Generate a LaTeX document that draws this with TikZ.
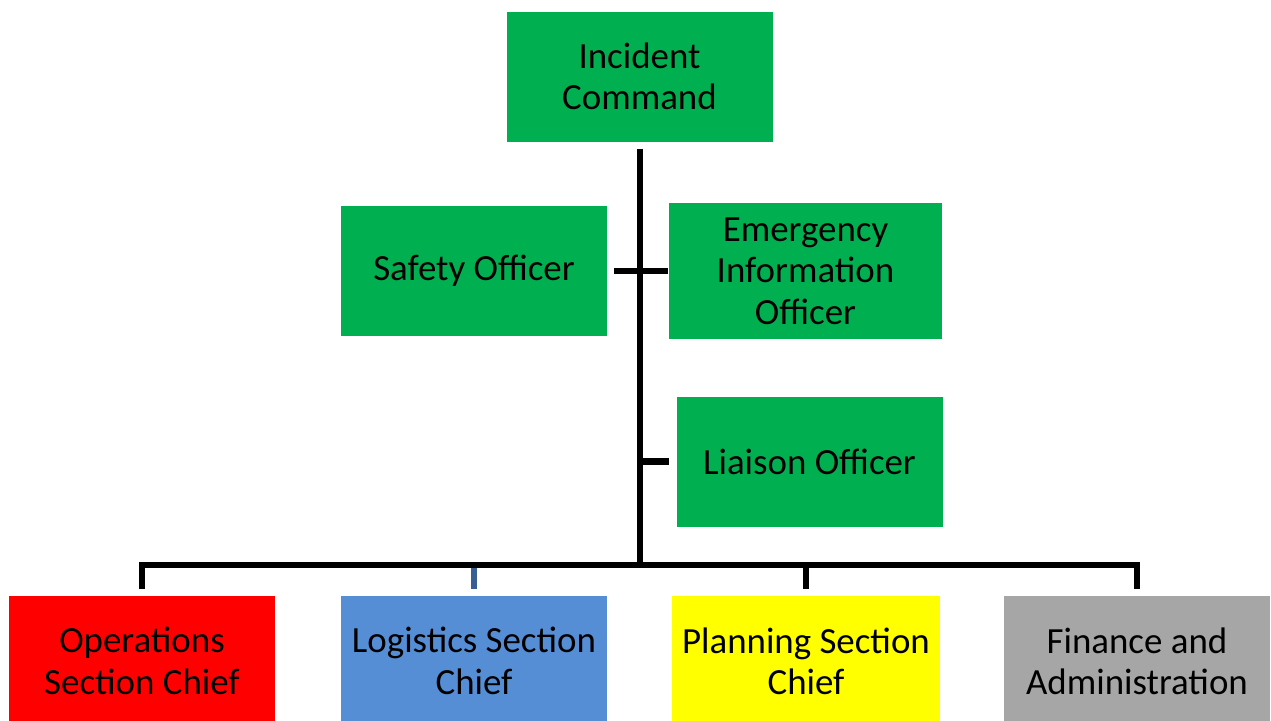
\documentclass[tikz,border=0pt]{standalone}
\usepackage{fontspec}
\setmainfont{Carlito}
\usepackage{xcolor}
\usetikzlibrary{positioning,calc}
\definecolor{icsgreen}{RGB}{0,176,80}
\definecolor{icsred}{RGB}{255,0,0}
\definecolor{icsblue}{RGB}{85,142,213}
\definecolor{icsyellow}{RGB}{255,255,0}
\definecolor{icsgray}{RGB}{166,166,166}
\definecolor{tickblue}{RGB}{55,96,146}

\begin{document}
\begin{tikzpicture}[x=0.2mm,y=-0.2mm,
	box/.style={rectangle,inner sep=0pt,outer sep=0pt,minimum width=53.2mm,minimum height=26mm,
		align=center,text=black,font=\fontsize{21}{23.5}\selectfont},
	link/.style={line width=1.3mm,black},
	gap/.style={shorten <=1.4mm,shorten >=1.4mm}]
	\def\BusY{565}
	\useasboundingbox (0,0) rectangle (1271,721);
	\clip (0,0) rectangle (1271,721);

	\node[box,fill=icsgreen] (ic) at (639.5,76.5) {Incident\\Command};
	\node[box,fill=icsgreen] (saf) at (474,271) {Safety Officer};
	\node[box,fill=icsgreen,minimum width=54.6mm,minimum height=27.2mm] (eio) at (805.5,271) {Emergency\\Information\\Officer};
	\node[box,fill=icsgreen] (lia) at (809.5,461.5) {Liaison Officer};

	\node[box,fill=icsred] (ops) at (142,661) {Operations\\Section Chief};
	\node[box,fill=icsblue] (log) at (474,661) {Logistics Section\\Chief};
	\node[box,fill=icsyellow,minimum width=53.6mm] (pla) at (806,661) {Planning Section\\Chief};
	\node[box,fill=icsgray] (fin) at (1137,661) {Finance and\\Administration};

	\coordinate (bus) at (640,\BusY);

	\draw[link,shorten <=1.4mm] (ic.south -| bus) -- (bus);
	\draw[link,shorten <=1.4mm,shorten >=0.2mm] (saf.east) -- (eio.west);
	\draw[link,shorten >=1.6mm] (lia.west -| bus) -- (lia.west);
	\draw[link,gap] (ops.north) -- (ops.north |- bus) -- (fin.north |- bus) -- (fin.north);
	\draw[link,shorten >=1.4mm] (pla.north |- bus) -- (pla.north);
	\draw[line width=1.2mm,tickblue,shorten <=0.6mm,shorten >=1.4mm] (log.north |- bus) -- (log.north);
\end{tikzpicture}
\end{document}
